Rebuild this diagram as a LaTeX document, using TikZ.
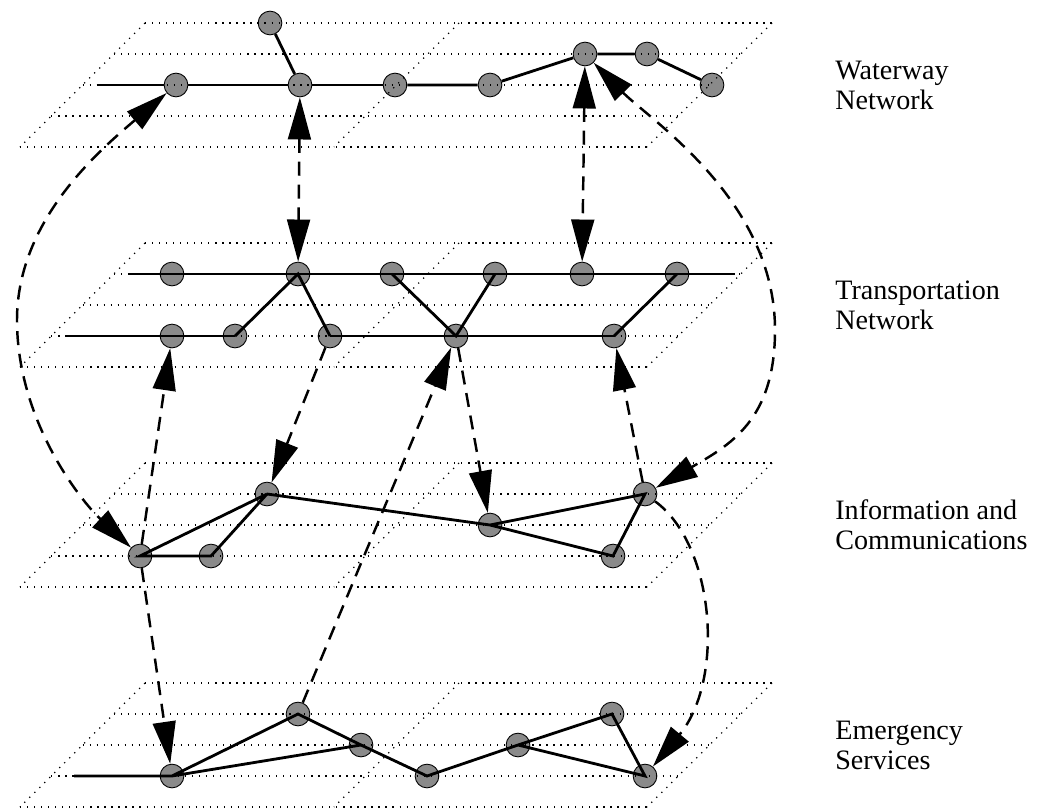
\documentclass[tikz,border=0pt]{standalone}
\usepackage{fontspec}
\setmainfont{Liberation Serif}
\usetikzlibrary{arrows.meta}

\tikzset{
  site/.style={circle, draw=black, line width=0.5pt, fill=black!46, minimum size=13.5pt, inner sep=0pt},
  road/.style={line width=1.6pt},
  grid line/.style={line width=0.7pt, dash pattern=on 0.7pt off 3.3pt},
  depend/.style={line width=1.4pt, dash pattern=on 8pt off 5pt},
  layer label/.style={anchor=west, align=left, inner sep=0pt, font=\fontsize{16}{17}\selectfont},
  >={Triangle[length=24pt,width=13pt]}
}

\begin{document}
\begin{tikzpicture}[x=0.02cm, y=-0.02cm]
    \useasboundingbox (0,0) rectangle (1037,808);

    % Waterway network
    \node[site] (w1) at (270,23) {};
    \node[site] (w2) at (176,85) {};
    \node[site] (w3) at (300,85) {};
    \node[site] (w4) at (395,85) {};
    \node[site] (w5) at (490,85) {};
    \node[site] (w6) at (585,54) {};
    \node[site] (w7) at (647,54) {};
    \node[site] (w8) at (712,85) {};
    \coordinate (w0) at (97,85);
    \draw[road] (w0) -- (w2) -- (w3) -- (w4);
    \draw[road] (w4) -- (w5) -- (w6) -- (w7) -- (w8);
    \draw[road] (w1) -- (w3);

    % Transportation network
    \node[site] (t1) at (172,274) {};
    \node[site] (t2) at (298,274) {};
    \node[site] (t3) at (392,274) {};
    \node[site] (t4) at (495,274) {};
    \node[site] (t5) at (582,274) {};
    \node[site] (t6) at (677,274) {};
    \node[site] (b1) at (172,336) {};
    \node[site] (b2) at (235,336) {};
    \node[site] (b3) at (330,336) {};
    \node[site] (b4) at (456,336) {};
    \node[site] (b5) at (614,336) {};
    \coordinate (t0) at (129,274);
    \coordinate (t7) at (735,274);
    \coordinate (b0) at (65,336);
    \draw[road] (t0) -- (t7);
    \draw[road] (b0) -- (b2.center);
    \draw[road] (b3.center) -- (b5.center);
    \draw[road] (b2.center) -- (t2.center) -- (b3.center);
    \draw[road] (t3.center) -- (b4.center) -- (t4.center);
    \draw[road] (t6.center) -- (b5.center);

    % Information and communications
    \node[site] (i1) at (267,494) {};
    \node[site] (i2) at (140,556) {};
    \node[site] (i3) at (211,556) {};
    \node[site] (i4) at (490,525) {};
    \node[site] (i5) at (645,494) {};
    \node[site] (i6) at (613,556) {};
    \draw[road] (i1.center) -- (i2.center) -- (i3.center) -- (i1.center);
    \draw[road] (i1.center) -- (i4.center) -- (i5.center) -- (i6.center) -- (i4.center);

    % Emergency services
    \node[site] (e1) at (172,776) {};
    \node[site] (e2) at (298,714) {};
    \node[site] (e3) at (361,745) {};
    \node[site] (e4) at (427,776) {};
    \node[site] (e5) at (518,745) {};
    \node[site] (e6) at (612,714) {};
    \node[site] (e7) at (645,776) {};
    \coordinate (e0) at (74,776);
    \draw[road] (e0) -- (e1.center) -- (e2.center) -- (e3.center) -- (e1.center);
    \draw[road] (e3.center) -- (e4.center) -- (e5.center) -- (e6.center) -- (e7.center) -- (e5.center);

    % Dotted planes
    \foreach \y in {23,243,463,683} {
        \foreach \r in {0,...,4}
            \draw[grid line] ({145-31.25*\r},{\y+31*\r}) -- ({772-31.25*\r},{\y+31*\r});
        \foreach \x in {145,459,772}
            \draw[grid line] (\x,\y) -- ({\x-125},{\y+124});
    }

    % Dependencies between the layers
    \draw[depend,<->] (w3) -- (t2);
    \draw[depend,<->] (w6) -- (t5);
    \draw[depend,<->] (w2) .. controls (100,150) and (17,220) .. (17,320)
        .. controls (17,420) and (80,500) .. (i2);
    \draw[depend,<->] (w6) .. controls (650,120) and (775,200) .. (775,330)
        .. controls (775,420) and (730,445) .. (i5);
    \draw[depend,->] (b3) -- (i1);
    \draw[depend,->] (b4) -- (i4);
    \draw[depend,->] (e2) -- (b4);
    \draw[depend,->] (i2) -- (b1);
    \draw[depend,->] (i2) -- (e1);
    \draw[depend,->] (i5) -- (b5);
    \draw[depend,->] (i5) .. controls (715,545) and (725,680) .. (e7);

    % Label the layers
    \node[layer label] (lw) at (835,85) {Waterway\\Network};
    \node[layer label] (lt) at (835,305) {Transportation\\Network};
    \node[layer label] (li) at (835,525) {Information and\\Communications};
    \node[layer label] (le) at (835,745) {Emergency\\Services};
\end{tikzpicture}
\end{document}
